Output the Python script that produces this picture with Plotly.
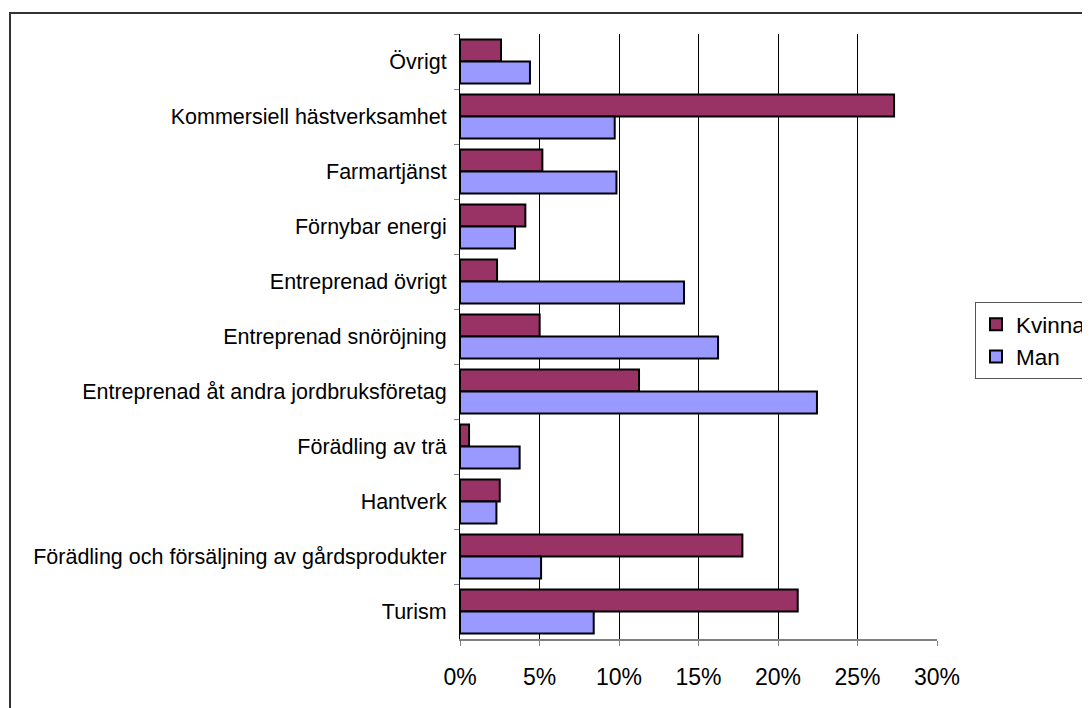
import plotly.graph_objects as go

categories = [
    "Övrigt",
    "Kommersiell hästverksamhet",
    "Farmartjänst",
    "Förnybar energi",
    "Entreprenad övrigt",
    "Entreprenad snöröjning",
    "Entreprenad åt andra jordbruksföretag",
    "Förädling av trä",
    "Hantverk",
    "Förädling och försäljning av gårdsprodukter",
    "Turism",
]
kvinna = [0.0258, 0.2730, 0.0518, 0.0411, 0.0233, 0.0501, 0.1126, 0.0057, 0.0250, 0.1776, 0.2124]
man = [0.0440, 0.0973, 0.0984, 0.0346, 0.1409, 0.1623, 0.2245, 0.0375, 0.0229, 0.0510, 0.0841]
x_ticks = [0, 0.05, 0.10, 0.15, 0.20, 0.25, 0.30]
x_labels = ["0%", "5%", "10%", "15%", "20%", "25%", "30%"]

font_family = "Liberation Sans, Arial, sans-serif"

fig = go.Figure()
fig.add_trace(go.Bar(
    name="Kvinna", y=categories, x=kvinna, orientation="h",
    marker=dict(color="#993366", line=dict(color="#000000", width=2)),
))
fig.add_trace(go.Bar(
    name="Man", y=categories, x=man, orientation="h",
    marker=dict(color="#9999FF", line=dict(color="#000000", width=2)),
))

OFF = 8  # default page body margin
W, H = 1090 - OFF, 708 - OFF
L, R, T, B = 460 - OFF, 937 - OFF, 34 - OFF, 639 - OFF

def px_x(p):
    return (p - OFF - L) / (R - L)

def px_y(p):
    return (B - (p - OFF)) / (B - T)

fig.update_layout(
    width=W, height=H,
    margin=dict(l=L, r=W - R, t=T, b=H - B, pad=0, autoexpand=False),
    paper_bgcolor="white", plot_bgcolor="white",
    barmode="group", bargap=0.2, bargroupgap=0,
    font=dict(family=font_family, size=21.5, color="#000000"),
    showlegend=True,
    legend=dict(
        xref="container", yref="container",
        x=(975 - OFF) / W, y=1 - (302 - OFF) / H, xanchor="left", yanchor="top",
        bgcolor="white", bordercolor="#555555", borderwidth=1,
        font=dict(size=22.5, family=font_family),
        tracegroupgap=0, itemwidth=30,
    ),
    xaxis=dict(
        range=[0, 0.30], tickvals=x_ticks, ticktext=x_labels,
        showgrid=True, gridcolor="#000000", gridwidth=1,
        showline=True, linecolor="#808080", linewidth=2,
        ticks="outside", ticklen=5, tickcolor="#808080",
        tickfont=dict(size=23), zeroline=False, ticklabelstandoff=11,
        automargin=False,
    ),
    yaxis=dict(
        autorange="reversed", type="category",
        showline=True, linecolor="#000000", linewidth=1,
        ticks="outside", ticklen=5, tickcolor="#808080", tickson="boundaries",
        tickfont=dict(size=21.5), showgrid=False, ticklabelstandoff=8,
        automargin=False,
    ),
    shapes=[
        dict(type="rect", xref="paper", yref="paper",
             x0=px_x(10), x1=px_x(1110), y0=px_y(730), y1=px_y(13),
             line=dict(color="#333333", width=2), fillcolor="rgba(0,0,0,0)", layer="below"),
    ],
)

fig.write_html("out.html")
